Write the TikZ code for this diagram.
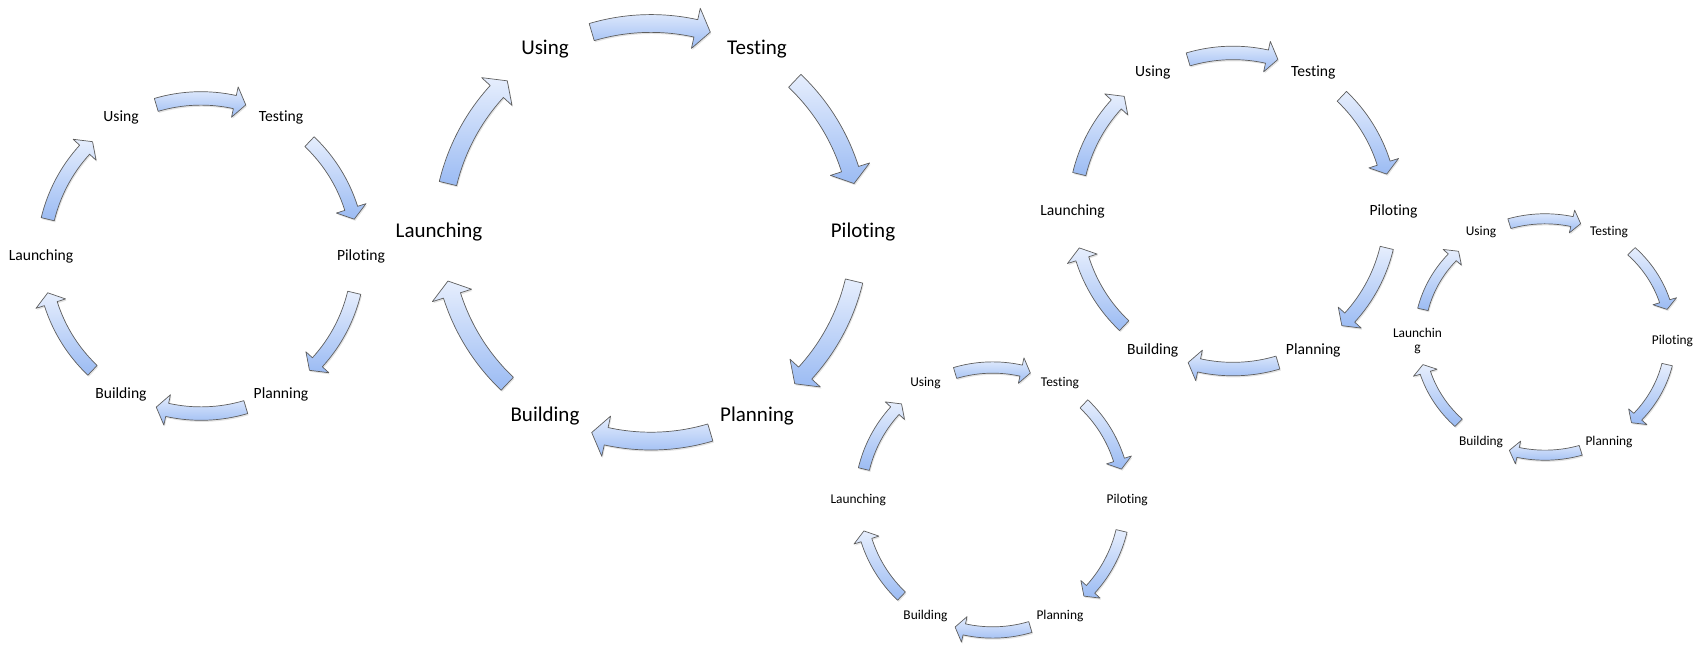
\documentclass[tikz,border=0pt]{standalone}
\usepackage{fontspec}
\setmainfont{Carlito}[Ligatures={NoCommon}]
\usepackage{tikz}

% one curved block arrow of a cycle: #1 mid angle, #2/#3 x and y radius (pt)
\newcommand{\cyclearrow}[3]{%
  \pgfmathsetmacro{\aT}{#1+16.5}% tail
  \pgfmathsetmacro{\aB}{#1-12.4}% base of the head
  \pgfmathsetmacro{\aH}{#1-16.5}% tip
  \pgfmathsetmacro{\oX}{1.027*#2}\pgfmathsetmacro{\oY}{1.027*#3}%
  \pgfmathsetmacro{\iX}{0.943*#2}\pgfmathsetmacro{\iY}{0.943*#3}%
  \pgfmathsetmacro{\hoX}{1.082*#2}\pgfmathsetmacro{\hoY}{1.082*#3}%
  \pgfmathsetmacro{\hiX}{0.888*#2}\pgfmathsetmacro{\hiY}{0.888*#3}%
  \pgfmathsetmacro{\cX}{0.985*#2}\pgfmathsetmacro{\cY}{0.985*#3}%
  \foreach \sty in {arrowshadow,arrowbody}{
    \path[\sty] (\aT:\oX pt and \oY pt)
      arc[start angle=\aT, end angle=\aB, x radius=\oX pt, y radius=\oY pt]
      -- (\aB:\hoX pt and \hoY pt) -- (\aH:\cX pt and \cY pt)
      -- (\aB:\hiX pt and \hiY pt) -- (\aB:\iX pt and \iY pt)
      arc[start angle=\aB, end angle=\aT, x radius=\iX pt, y radius=\iY pt]
      -- cycle;}%
}

\begin{document}
\begin{tikzpicture}[x=1pt, y=1pt]
  % Colours of the block arrows
  \definecolor{arrowtop}{HTML}{E6EEFD}
  \definecolor{arrowbot}{HTML}{9BBBF3}
  \definecolor{arrowedge}{HTML}{5E5E5E}

  \tikzstyle{arrowbody} = [top color=arrowtop, bottom color=arrowbot,
    draw=arrowedge, line width=0.7pt, line join=round]
  \tikzstyle{arrowshadow} = [fill=black!11, xshift=1pt, yshift=-1.6pt]
  \tikzstyle{stage} = [inner sep=0pt, text=black, align=center]
  \tikzstyle{stageL} = [stage, font=\fontsize{21}{25}\selectfont]
  \tikzstyle{stageM} = [stage, font=\fontsize{15.6}{19}\selectfont]
  \tikzstyle{stageS} = [stage, font=\fontsize{13.4}{14}\selectfont]

  \useasboundingbox (0,0) rectangle (1699,645);

  % Cycle A (left)
  \begin{scope}[shift={(201,389)}]
    \foreach \a in {90,30,-30,-90,-150,150} {\cyclearrow{\a}{160}{160}}
    \node[stageM] (usingA) at (120:160) {Using};
    \node[stageM] (testingA) at (60:160) {Testing};
    \node[stageM] (pilotingA) at (0:160) {Piloting};
    \node[stageM] (planningA) at (-60:160) {Planning};
    \node[stageM] (buildingA) at (-120:160) {Building};
    \node[stageM] (launchingA) at (180:160) {Launching};
  \end{scope}

  % Cycle B (large)
  \begin{scope}[shift={(651,412.7)}]
    \foreach \a in {90,30,-30,-90,-150,150} {\cyclearrow{\a}{212}{212}}
    \node[stageL] (usingB) at (120:212) {Using};
    \node[stageL] (testingB) at (60:212) {Testing};
    \node[stageL] (pilotingB) at (0:212) {Piloting};
    \node[stageL] (planningB) at (-60:212) {Planning};
    \node[stageL] (buildingB) at (-120:212) {Building};
    \node[stageL] (launchingB) at (180:212) {Launching};
  \end{scope}

  % Cycle C (upper right)
  \begin{scope}[shift={(1233,434)}]
    \foreach \a in {90,30,-30,-90,-150,150} {\cyclearrow{\a}{160.5}{160.5}}
    \node[stageM] (usingC) at (120:160.5) {Using};
    \node[stageM] (testingC) at (60:160.5) {Testing};
    \node[stageM] (pilotingC) at (0:160.5) {Piloting};
    \node[stageM] (planningC) at (-60:160.5) {Planning};
    \node[stageM] (buildingC) at (-120:160.5) {Building};
    \node[stageM] (launchingC) at (180:160.5) {Launching};
  \end{scope}

  % Cycle D (bottom middle)
  \begin{scope}[shift={(992.7,145)}]
    \foreach \a in {90,30,-30,-90,-150,150} {\cyclearrow{\a}{134.5}{134.5}}
    \node[stageS] (usingD) at (120:134.5) {Using};
    \node[stageS] (testingD) at (60:134.5) {Testing};
    \node[stageS] (pilotingD) at (0:134.5) {Piloting};
    \node[stageS] (planningD) at (-60:134.5) {Planning};
    \node[stageS] (buildingD) at (-120:134.5) {Building};
    \node[stageS] (launchingD) at (180:134.5) {Launching};
  \end{scope}

  % Cycle E (right, slightly squeezed)
  \begin{scope}[shift={(1545,308)}]
    \foreach \a in {90,30,-30,-90,-150,150} {\cyclearrow{\a}{127.5}{120}}
    \node[stageS] (usingE) at (-64,105.3) {Using};
    \node[stageS] (testingE) at (64,105.3) {Testing};
    \node[stageS] (pilotingE) at (127.5,-4) {Piloting};
    \node[stageS] (planningE) at (64,-105.3) {Planning};
    \node[stageS] (buildingE) at (-64,-105.3) {Building};
    \node[stageS] (launchingE) at (-127.5,-4) {Launchin\\g};
  \end{scope}
\end{tikzpicture}
\end{document}
